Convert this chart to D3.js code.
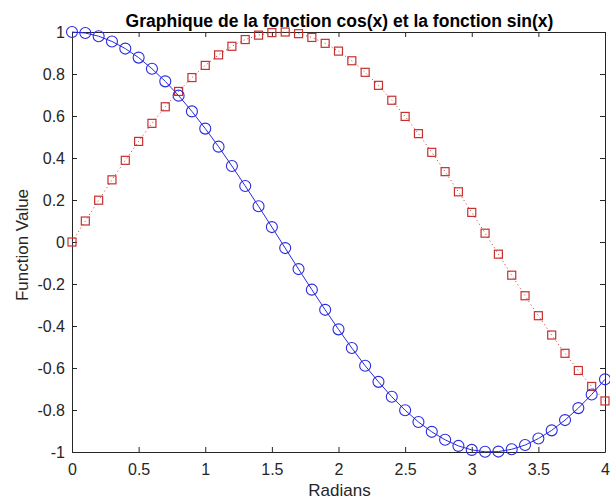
<!DOCTYPE html>
<html><head><meta charset="utf-8">
<script src="https://cdn.jsdelivr.net/npm/d3@7"></script>
<style>
body{margin:0;background:#fff;}
svg{display:block;font-family:"Liberation Sans",Arial,sans-serif;}
</style></head><body>
<svg id="c" width="610" height="502"></svg>
<script>
const xValues = [0,0.1,0.2,0.3,0.4,0.5,0.6,0.7,0.8,0.9,1.0,1.1,1.2,1.3,1.4,1.5,1.6,1.7,1.8,1.9,2.0,2.1,2.2,2.3,2.4,2.5,2.6,2.7,2.8,2.9,3.0,3.1,3.2,3.3,3.4,3.5,3.6,3.7,3.8,3.9,4.0];
const cosValues = [1.000,0.995,0.980,0.955,0.921,0.878,0.825,0.765,0.697,0.622,0.540,0.454,0.362,0.267,0.170,0.071,-0.029,-0.129,-0.227,-0.323,-0.416,-0.505,-0.589,-0.666,-0.737,-0.801,-0.857,-0.904,-0.942,-0.971,-0.990,-0.999,-0.998,-0.987,-0.967,-0.936,-0.897,-0.848,-0.791,-0.726,-0.654];
const sinValues = [0.000,0.100,0.199,0.296,0.389,0.479,0.565,0.644,0.717,0.783,0.841,0.891,0.932,0.964,0.985,0.997,1.000,0.992,0.974,0.946,0.909,0.863,0.808,0.746,0.675,0.598,0.516,0.427,0.335,0.239,0.141,0.042,-0.058,-0.158,-0.256,-0.351,-0.443,-0.530,-0.612,-0.688,-0.757];
const xTicks = [0,0.5,1,1.5,2,2.5,3,3.5,4];
const yTicks = [-1,-0.8,-0.6,-0.4,-0.2,0,0.2,0.4,0.6,0.8,1];
const titleText = "Graphique de la fonction cos(x) et la fonction sin(x)";
const xLabel = "Radians";
const yLabel = "Function Value";

const L=72, R=605, T=32, B=452;
const svg = d3.select("#c");
const x = d3.scaleLinear().domain([0,4]).range([L,R]);
const y = d3.scaleLinear().domain([-1,1]).range([B,T]);
const axisColor = "#262626";
const tl = 5;
const ff = "'Liberation Sans',Arial,sans-serif";

const fmt = d => String(d);
const gx = svg.append("g").attr("transform",`translate(0,${B})`)
  .call(d3.axisBottom(x).tickValues(xTicks).tickFormat(fmt).tickSizeInner(-tl).tickSizeOuter(0).tickPadding(12));
const gxt = svg.append("g").attr("transform",`translate(0,${T})`)
  .call(d3.axisTop(x).tickValues(xTicks).tickFormat("").tickSizeInner(-tl).tickSizeOuter(0));
const gy = svg.append("g").attr("transform",`translate(${L},0)`)
  .call(d3.axisLeft(y).tickValues(yTicks).tickFormat(fmt).tickSizeInner(-tl).tickSizeOuter(0).tickPadding(7));
const gyr = svg.append("g").attr("transform",`translate(${R},0)`)
  .call(d3.axisRight(y).tickValues(yTicks).tickFormat("").tickSizeInner(-tl).tickSizeOuter(0));
[gx,gxt,gy,gyr].forEach(g=>{
  g.select(".domain").attr("stroke",axisColor).attr("stroke-width",1);
  g.selectAll(".tick line").attr("stroke",axisColor);
  g.selectAll(".tick text").attr("fill",axisColor).style("font-size","16px").style("font-family",ff);
});

const pts = xValues.map((v,i)=>({x:v,c:cosValues[i],s:sinValues[i]}));
const blue = "#2a2ae0", red = "#c83030";

svg.append("path").datum(pts)
  .attr("fill","none").attr("stroke",red).attr("stroke-width",1)
  .attr("stroke-dasharray","1,3")
  .attr("d",d3.line().x(d=>x(d.x)).y(d=>y(d.s)));
svg.append("g").selectAll("rect").data(pts).join("rect")
  .attr("x",d=>x(d.x)-4).attr("y",d=>y(d.s)-4)
  .attr("width",8).attr("height",8)
  .attr("fill","none").attr("stroke",red).attr("stroke-width",1.2);

svg.append("path").datum(pts)
  .attr("fill","none").attr("stroke",blue).attr("stroke-width",1)
  .attr("d",d3.line().x(d=>x(d.x)).y(d=>y(d.c)));
svg.append("g").selectAll("circle").data(pts).join("circle")
  .attr("cx",d=>x(d.x)).attr("cy",d=>y(d.c)).attr("r",5.5)
  .attr("fill","none").attr("stroke",blue).attr("stroke-width",1.1);

svg.append("text").attr("x",(L+R)/2+1).attr("y",27).attr("text-anchor","middle")
  .style("font-size","17.5px").style("font-weight","bold").style("font-family",ff).attr("fill","#000").text(titleText);
svg.append("text").attr("x",(L+R)/2+1).attr("y",496).attr("text-anchor","middle")
  .style("font-size","17px").style("font-family",ff).attr("fill",axisColor).text(xLabel);
svg.append("text").attr("transform",`translate(28,${(T+B)/2+3}) rotate(-90)`).attr("text-anchor","middle")
  .style("font-size","17px").style("font-family",ff).attr("fill",axisColor).text(yLabel);
</script>
</body></html>
